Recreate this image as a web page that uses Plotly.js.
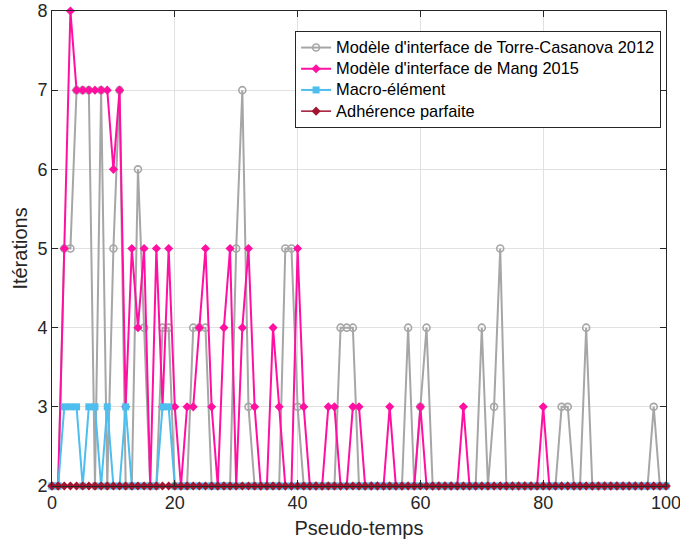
<!DOCTYPE html>
<html>
<head>
<meta charset="utf-8">
<script src="https://cdn.plot.ly/plotly-3.0.1.min.js"></script>
<style>
html,body{margin:0;padding:0;background:#ffffff;}
#chart{width:680px;height:543px;}
</style>
</head>
<body>
<div id="chart"></div>
<script>
// Pseudo-time steps (x)
const pseudoTemps = [0,1,2,3,4,5,6,7,8,9,10,11,12,13,14,15,16,17,18,19,20,21,22,23,24,25,26,27,28,29,30,31,32,33,34,35,36,37,38,39,40,41,42,43,44,45,46,47,48,49,50,51,52,53,54,55,56,57,58,59,60,61,62,63,64,65,66,67,68,69,70,71,72,73,74,75,76,77,78,79,80,81,82,83,84,85,86,87,88,89,90,91,92,93,94,95,96,97,98,99,100];

// Iterations per series
const torreCasanova = [2,2,5,5,7,7,7,2,7,2, 5,7,2,2,6,4,2,2,4,4, 2,2,2,4,4,4,2,2,2,2, 5,7,3,2,2,2,2,2,5,5, 3,2,2,2,2,2,2,4,4,4, 2,2,2,2,2,2,2,2,4,2, 3,4,2,2,2,2,2,2,2,2, 4,2,3,5,2,2,2,2,2,2, 2,2,2,3,3,2,2,4,2,2, 2,2,2,2,2,2,2,2,3,2, 2];
const mang = [2,2,5,8,7,7,7,7,7,7, 6,7,3,5,4,5,2,5,3,5, 3,2,3,3,4,5,3,2,4,5, 2,4,5,3,2,2,4,3,2,2, 5,3,2,2,2,3,3,2,2,3, 3,2,2,2,2,3,2,2,2,2, 3,2,2,2,2,2,2,3,2,2, 2,2,2,2,2,2,2,2,2,2, 3,2,2,2,2,2,2,2,2,2, 2,2,2,2,2,2,2,2,2,2, 2];
const macroElement = [2,2,3,3,3,2,3,3,2,3, 2,2,3,2,2,2,2,2,3,3, 2,2,2,2,2,2,2,2,2,2, 2,2,2,2,2,2,2,2,2,2, 2,2,2,2,2,2,2,2,2,2, 2,2,2,2,2,2,2,2,2,2, 2,2,2,2,2,2,2,2,2,2, 2,2,2,2,2,2,2,2,2,2, 2,2,2,2,2,2,2,2,2,2, 2,2,2,2,2,2,2,2,2,2, 2];
const adherence = [2,2,2,2,2,2,2,2,2,2, 2,2,2,2,2,2,2,2,2,2, 2,2,2,2,2,2,2,2,2,2, 2,2,2,2,2,2,2,2,2,2, 2,2,2,2,2,2,2,2,2,2, 2,2,2,2,2,2,2,2,2,2, 2,2,2,2,2,2,2,2,2,2, 2,2,2,2,2,2,2,2,2,2, 2,2,2,2,2,2,2,2,2,2, 2,2,2,2,2,2,2,2,2,2, 2];

const seriesNames = ["Modèle d'interface de Torre-Casanova 2012", "Modèle d'interface de Mang 2015", "Macro-élément", "Adhérence parfaite"];
const xTicks = [0,20,40,60,80,100];
const yTicks = [2,3,4,5,6,7,8];

// legend rows are spaced for a 14px font while the text itself is drawn at 16.4px
const legendLabel = n => '<span style="font-size:16.4px">' + n + '</span>';

const traces = [
  {x: pseudoTemps, y: torreCasanova, name: legendLabel(seriesNames[0]), type: 'scatter', mode: 'lines+markers', cliponaxis: false,
   line: {color: '#a6a6a6', width: 2}, marker: {symbol: 'circle-open', size: 7, color: '#a6a6a6', line: {width: 1.6, color: '#a6a6a6'}}},
  {x: pseudoTemps, y: mang, name: legendLabel(seriesNames[1]), type: 'scatter', mode: 'lines+markers', cliponaxis: false,
   line: {color: '#ff10a0', width: 2}, marker: {symbol: 'diamond', size: 7, color: '#ff10a0'}},
  {x: pseudoTemps, y: macroElement, name: legendLabel(seriesNames[2]), type: 'scatter', mode: 'lines+markers', cliponaxis: false,
   line: {color: '#4dbeee', width: 2}, marker: {symbol: 'square', size: 7, color: '#4dbeee'}},
  {x: pseudoTemps, y: adherence, name: legendLabel(seriesNames[3]), type: 'scatter', mode: 'lines+markers', cliponaxis: false,
   line: {color: '#a2142f', width: 1.5}, marker: {symbol: 'diamond', size: 7, color: '#a2142f'}}
];

const axisCommon = {
  showgrid: true, gridcolor: '#e1e1e1', gridwidth: 1, zeroline: false,
  showline: true, linecolor: '#262626', linewidth: 1, mirror: 'ticks',
  ticks: 'inside', ticklen: 6, tickwidth: 1, tickcolor: '#262626',
  tickfont: {size: 18, color: '#262626'}, ticklabeloverflow: 'allow'
};

const layout = {
  width: 680, height: 543,
  margin: {l: 52, r: 14, t: 11, b: 57, pad: 0},
  paper_bgcolor: '#ffffff', plot_bgcolor: '#ffffff',
  font: {family: '"Liberation Sans", Arial, sans-serif', color: '#262626', size: 18},
  showlegend: true,
  xaxis: Object.assign({}, axisCommon, {
    range: [0, 100], tickvals: xTicks, ticktext: xTicks.map(String),
    title: {text: 'Pseudo-temps', font: {size: 20, color: '#262626'}, standoff: 9}
  }),
  yaxis: Object.assign({}, axisCommon, {
    range: [2, 8], tickvals: yTicks, ticktext: yTicks.map(String),
    title: {text: 'Itérations', font: {size: 20, color: '#262626'}, standoff: 4}
  }),
  legend: {
    x: 0.992, xanchor: 'right', y: 0.958, yanchor: 'top',
    bgcolor: '#ffffff', bordercolor: '#262626', borderwidth: 1,
    font: {size: 14, color: '#000000'}, itemwidth: 30, tracegroupgap: 0
  }
};

Plotly.newPlot('chart', traces, layout, {staticPlot: true, displayModeBar: false});
</script>
</body>
</html>
